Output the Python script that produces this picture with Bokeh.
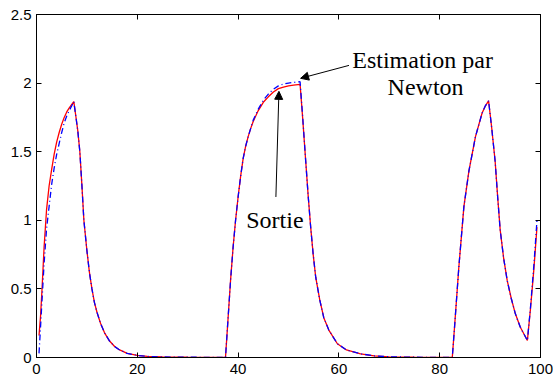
from bokeh.plotting import figure
from bokeh.models import (ColumnDataSource, FixedTicker, LinearAxis, Range1d,
                          Arrow, NormalHead, Label)
from bokeh.embed import file_html
from bokeh.resources import INLINE

# ---- data ----
x_vals = [0.5, 0.8, 1.1, 1.5, 2.0, 2.5, 3.0, 3.5, 4.0, 4.5, 5.0, 5.5, 6.0, 6.5, 7.0, 7.4,
          7.8, 8.2, 8.6, 9.0, 9.4, 10.0, 10.5, 11.0, 11.5, 12.0, 12.7, 13.5, 14.5, 15.5, 16.5,
          18.0, 20.0, 22.0, 25.0, 30.0, 35.0, 37.5,
          38.0, 38.5, 39.0, 39.5, 40.0, 40.5, 41.0, 41.5, 42.0, 42.5, 43.0, 44.0, 45.0, 46.0,
          47.0, 48.0, 49.0, 50.0, 51.0, 52.3,
          52.8, 53.4, 53.9, 54.4, 54.9, 55.4, 56.2, 57.0, 58.0, 59.7, 61.5, 64.3, 67.0, 70.0,
          75.0, 82.5,
          83.0, 83.8, 84.8, 85.8, 87.1, 88.4, 89.0, 89.7,
          90.3, 91.0, 91.5, 92.0, 92.7, 93.4, 94.2, 95.0, 96.0, 97.4,
          98.0, 98.7, 99.3]

sortie = [0.16, 0.30, 0.50, 0.80, 1.08, 1.25, 1.37, 1.48, 1.57, 1.64, 1.70, 1.75, 1.79, 1.82, 1.845, 1.865,
          1.76, 1.65, 1.50, 1.26, 1.00, 0.78, 0.62, 0.50, 0.40, 0.33, 0.25, 0.18, 0.12, 0.08, 0.055,
          0.03, 0.015, 0.008, 0.004, 0.002, 0.001, 0.0,
          0.28, 0.56, 0.80, 1.00, 1.17, 1.32, 1.45, 1.54, 1.61, 1.67, 1.72, 1.80, 1.86, 1.90,
          1.935, 1.96, 1.97, 1.98, 1.985, 1.99,
          1.75, 1.44, 1.18, 0.95, 0.75, 0.585, 0.42, 0.29, 0.20, 0.10, 0.055, 0.027, 0.012, 0.005,
          0.002, 0.0,
          0.25, 0.66, 1.10, 1.36, 1.61, 1.78, 1.83, 1.87,
          1.68, 1.43, 1.17, 0.93, 0.72, 0.56, 0.43, 0.32, 0.22, 0.124,
          0.35, 0.65, 0.95]

newton = [0.03, 0.22, 0.42, 0.68, 0.94, 1.10, 1.26, 1.38, 1.48, 1.56, 1.64, 1.71, 1.76, 1.80, 1.835, 1.865,
          1.76, 1.65, 1.50, 1.26, 1.00, 0.78, 0.62, 0.50, 0.40, 0.33, 0.25, 0.18, 0.12, 0.08, 0.055,
          0.03, 0.015, 0.008, 0.004, 0.002, 0.001, 0.0,
          0.28, 0.56, 0.80, 1.00, 1.17, 1.32, 1.45, 1.54, 1.61, 1.67, 1.73, 1.81, 1.875, 1.92,
          1.955, 1.98, 1.993, 2.0, 2.005, 2.01,
          1.76, 1.44, 1.18, 0.95, 0.75, 0.585, 0.42, 0.29, 0.20, 0.10, 0.055, 0.027, 0.012, 0.005,
          0.002, 0.0,
          0.25, 0.66, 1.10, 1.36, 1.61, 1.78, 1.83, 1.87,
          1.68, 1.43, 1.17, 0.93, 0.72, 0.56, 0.43, 0.32, 0.22, 0.124,
          0.36, 0.68, 1.0]

x_ticks = [0, 20, 40, 60, 80, 100]
y_ticks = [0, 0.5, 1, 1.5, 2, 2.5]

label_est_1 = "Estimation par"
label_est_2 = "Newton"
label_sortie = "Sortie"

# annotation anchor positions (data units)
est_text1_xy = (76.6, 2.165)
est_text2_xy = (77.2, 1.971)
sortie_text_xy = (47.3, 1.0)
est_arrow = (62.0, 2.129, 52.4, 2.035)
sortie_arrow = (47.5, 1.17, 48.1, 1.94)

# ---- figure ----
p = figure(width=553, height=382, output_backend="svg", toolbar_location=None,
           x_range=Range1d(0, 100), y_range=Range1d(0, 2.5),
           min_border_left=36, min_border_right=13, min_border_top=14, min_border_bottom=25)
p.background_fill_color = "white"
p.border_fill_color = "white"
p.outline_line_color = "black"
p.outline_line_width = 1
p.xgrid.visible = False
p.ygrid.visible = False

src = ColumnDataSource(dict(x=x_vals, sortie=sortie, newton=newton))
p.line("x", "sortie", source=src, line_color="#ff0000", line_width=1.3)
p.line("x", "newton", source=src, line_color="#0000ff", line_width=1.3, line_dash="6 3 1 3")

def style_axis(ax, ticks, show_labels=True):
    ax.ticker = FixedTicker(ticks=ticks)
    ax.axis_line_color = "black"
    ax.major_tick_in = 5
    ax.major_tick_out = 0
    ax.minor_tick_line_color = None
    ax.major_tick_line_color = "black"
    ax.major_label_text_font = "Liberation Sans"
    ax.major_label_text_font_size = "15px"
    ax.major_label_text_color = "black"
    if not show_labels:
        ax.major_label_overrides = {t: "" for t in ticks}
        ax.major_label_standoff = 0

style_axis(p.xaxis[0], x_ticks)
p.xaxis[0].major_label_standoff = 6
style_axis(p.yaxis[0], y_ticks)
p.yaxis[0].major_label_standoff = 5

top_ax = LinearAxis()
style_axis(top_ax, x_ticks, show_labels=False)
p.add_layout(top_ax, "above")
right_ax = LinearAxis()
style_axis(right_ax, y_ticks, show_labels=False)
p.add_layout(right_ax, "right")

# ---- annotations ----
for txt, (tx, ty) in [(label_est_1, est_text1_xy), (label_est_2, est_text2_xy),
                      (label_sortie, sortie_text_xy)]:
    p.add_layout(Label(x=tx, y=ty, text=txt, text_font="Liberation Serif",
                       text_font_size="24px", text_color="black",
                       text_align="center", text_baseline="alphabetic"))

for (x0, y0, x1, y1) in [est_arrow, sortie_arrow]:
    p.add_layout(Arrow(x_start=x0, y_start=y0, x_end=x1, y_end=y1,
                       line_color="black", line_width=1,
                       end=NormalHead(size=8, fill_color="black", line_color="black")))

open("out.html", "w").write(file_html(p, INLINE))
